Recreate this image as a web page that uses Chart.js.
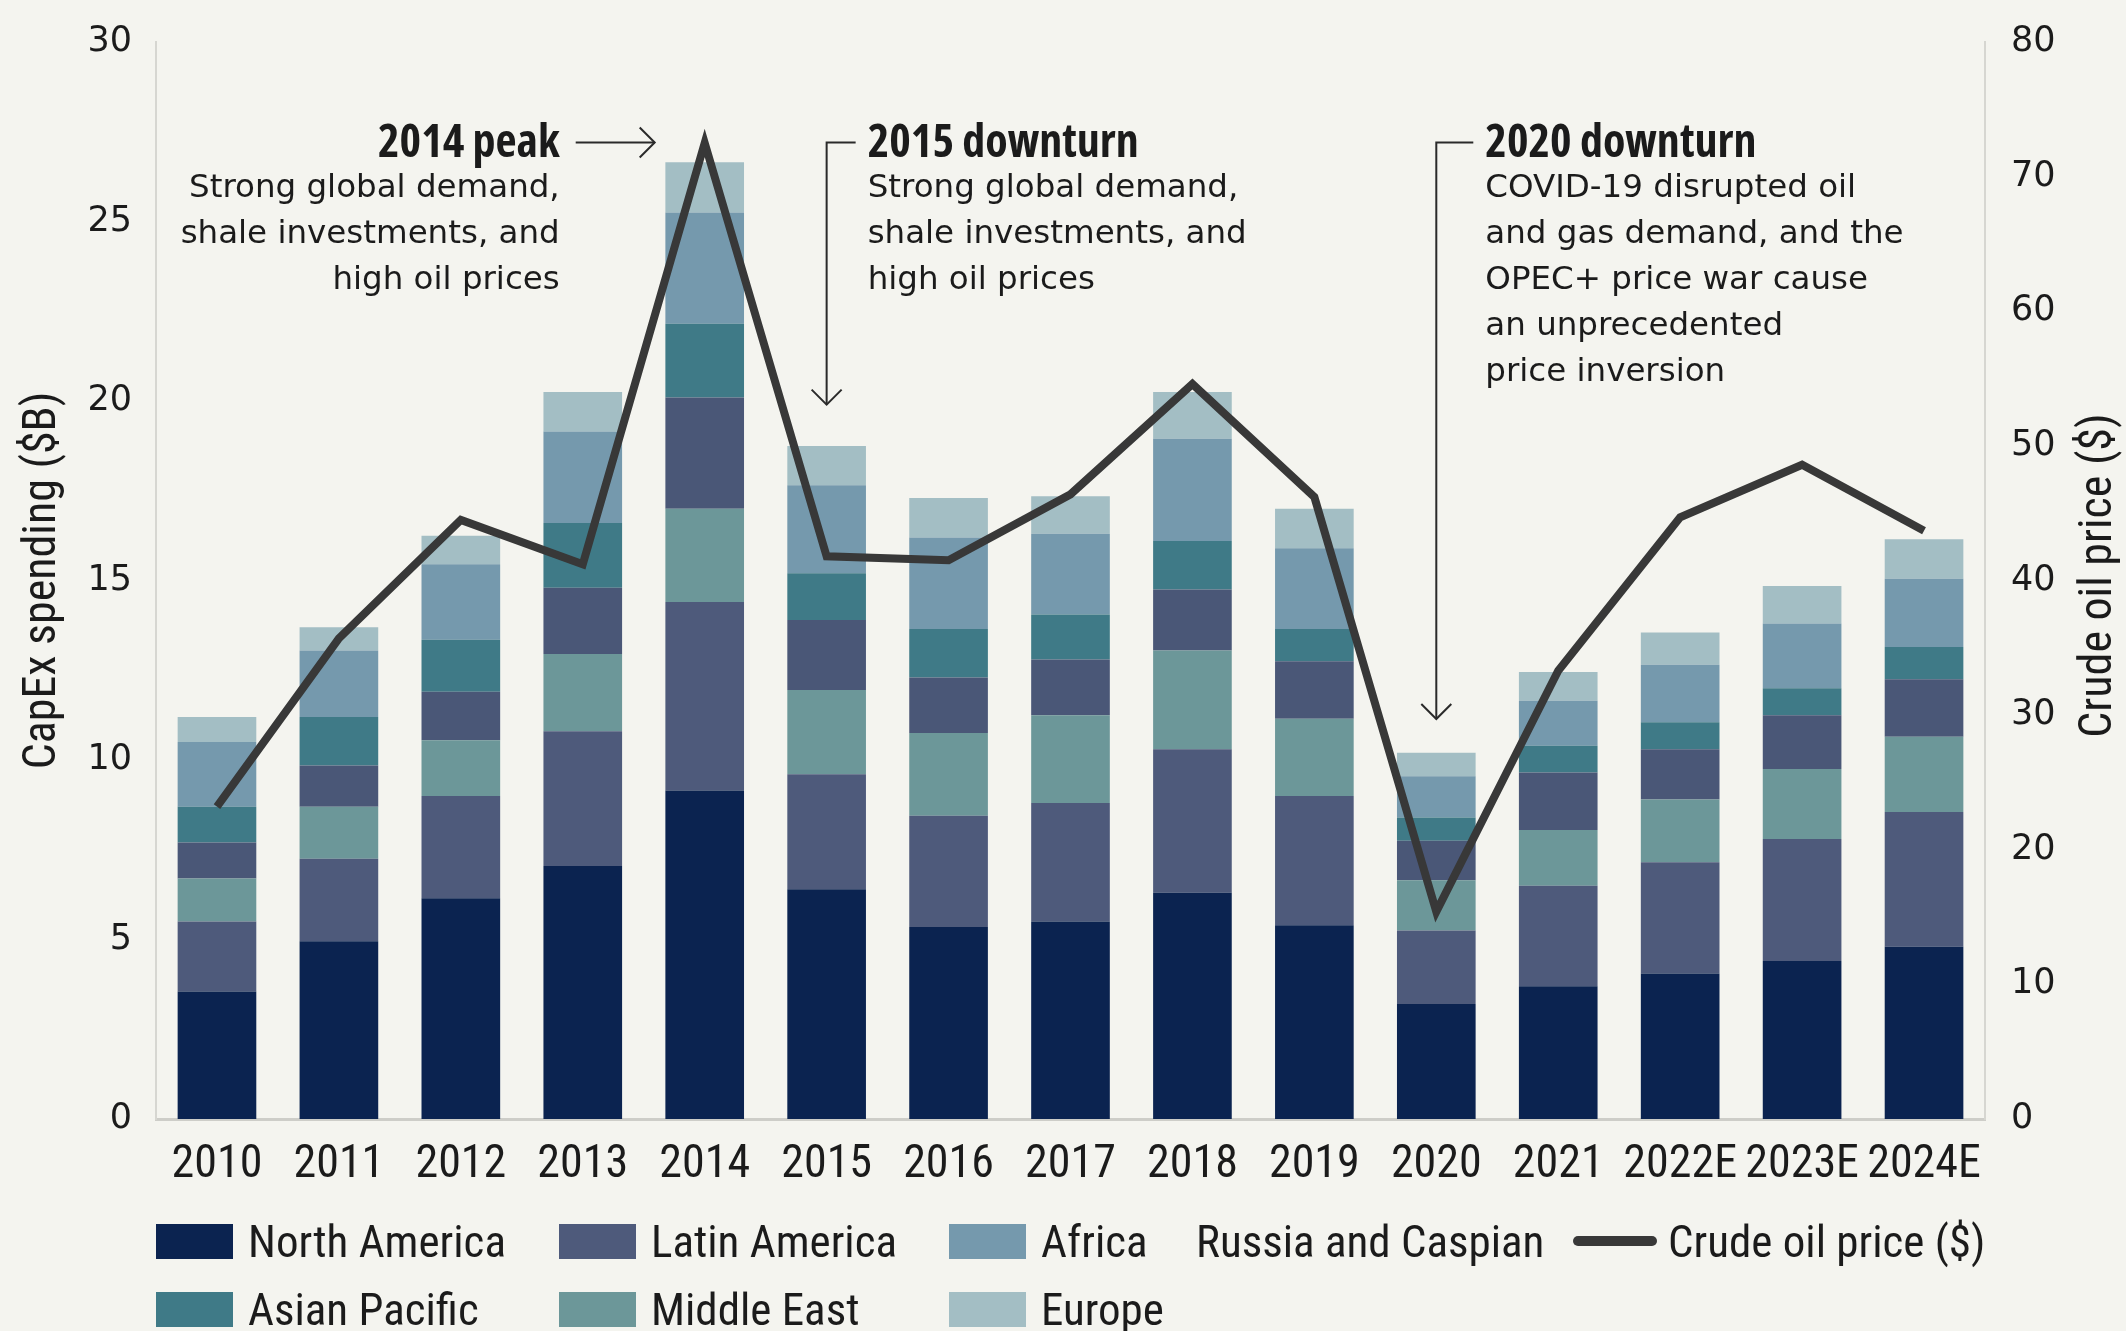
<!DOCTYPE html>
<html>
<head>
<meta charset="utf-8">
<script src="https://cdn.jsdelivr.net/npm/chart.js@4.4.1/dist/chart.umd.min.js"></script>
<style>
  html, body { margin: 0; padding: 0; background: #f4f4ef; }
  #wrap { position: relative; width: 2126px; height: 1331px; }
  #capex-chart { position: absolute; left: 0; top: 0; }
  .legend-item {
    position: absolute; height: 60px; display: flex; align-items: center;
    font-family: "Roboto Condensed", sans-serif;
    font-size: 45px; color: #1b1b1b; white-space: nowrap;
  }
  .swatch { width: 77px; height: 35px; margin-right: 15px; }
  .line-swatch { width: 84px; height: 10px; border-radius: 5px; margin-right: 11px; }
</style>
</head>
<body>
<div id="wrap">
  <canvas id="capex-chart" width="2126" height="1331"></canvas>
  <div id="legend"></div>
</div>
<script>
// categories
const years = ['2010', '2011', '2012', '2013', '2014', '2015', '2016', '2017', '2018', '2019', '2020', '2021', '2022E', '2023E', '2024E'];

// capex by region ($B), stacked bottom to top
const north_america = [3.55, 4.95, 6.15, 7.05, 9.15, 6.4, 5.35, 5.5, 6.3, 5.4, 3.2, 3.7, 4.05, 4.4, 4.8];
const latin_america = [1.95, 2.3, 2.85, 3.75, 5.25, 3.2, 3.1, 3.3, 4.0, 3.6, 2.05, 2.8, 3.1, 3.4, 3.75];
const middle_east = [1.2, 1.45, 1.55, 2.15, 2.6, 2.35, 2.3, 2.45, 2.75, 2.15, 1.4, 1.55, 1.75, 1.95, 2.1];
const russia_caspian = [1.0, 1.15, 1.35, 1.85, 3.1, 1.95, 1.55, 1.55, 1.7, 1.6, 1.1, 1.6, 1.4, 1.5, 1.6];
const asian_pacific = [1.0, 1.35, 1.45, 1.8, 2.05, 1.3, 1.35, 1.25, 1.35, 0.9, 0.65, 0.75, 0.75, 0.75, 0.9];
const africa = [1.8, 1.85, 2.1, 2.55, 3.1, 2.45, 2.55, 2.25, 2.85, 2.25, 1.15, 1.25, 1.6, 1.8, 1.9];
const europe = [0.7, 0.65, 0.8, 1.1, 1.4, 1.1, 1.1, 1.05, 1.3, 1.1, 0.65, 0.8, 0.9, 1.05, 1.1];

// crude oil price ($), right axis
const oil_price = [23.2, 35.7, 44.5, 41.2, 72.5, 41.8, 41.5, 46.4, 54.6, 46.2, 15.4, 33.3, 44.7, 48.6, 43.7];

// tick ranges
const capex_ticks = [0, 5, 10, 15, 20, 25, 30];
const price_ticks = [0, 10, 20, 30, 40, 50, 60, 70, 80];

const cond_family = '"Roboto Condensed", sans-serif';
const text_color = '#1b1b1b';

const regions = [
    { label: 'North America', data: north_america, color: '#0b2350' },
    { label: 'Latin America', data: latin_america, color: '#4e5a7b' },
    { label: 'Middle East', data: middle_east, color: '#6c9799' },
    { label: 'Russia and Caspian', data: russia_caspian, color: '#4a5777' },
    { label: 'Asian Pacific', data: asian_pacific, color: '#3f7a87' },
    { label: 'Africa', data: africa, color: '#7599ad' },
    { label: 'Europe', data: europe, color: '#a3bec4' }
];

let datasets = [{
    type: 'line',
    label: 'Crude oil price ($)',
    data: oil_price,
    yAxisID: 'y1',
    borderColor: '#383838',
    borderWidth: 8,
    borderJoinStyle: 'miter',
    pointRadius: 0,
    tension: 0,
    order: 0
}];
regions.forEach(r => {
    datasets.push({
        type: 'bar',
        label: r.label,
        data: r.data,
        yAxisID: 'y',
        backgroundColor: r.color,
        borderWidth: 0,
        barPercentage: 0.645,
        categoryPercentage: 1.0,
        order: 1
    });
});

// notes over the bars
const notes = [
    { year: '2014', align: 'right', dx: -145, title: '2014 peak',
      lines: ['Strong global demand,', 'shale investments, and', 'high oil prices'] },
    { year: '2015', align: 'left', dx: 41, title: '2015 downturn',
      lines: ['Strong global demand,', 'shale investments, and', 'high oil prices'], arrow_to: 19.9 },
    { year: '2020', align: 'left', dx: 49, title: '2020 downturn',
      lines: ['COVID-19 disrupted oil', 'and gas demand, and the', 'OPEC+ price war cause', 'an unprecedented', 'price inversion'], arrow_to: 11.14 }
];

function chevron(ctx, x, y, dir) {
    const s = 15;
    ctx.beginPath();
    if (dir === 'down') {
        ctx.moveTo(x - s, y - s); ctx.lineTo(x, y); ctx.lineTo(x + s, y - s);
    } else {
        ctx.moveTo(x - s, y - s); ctx.lineTo(x, y); ctx.lineTo(x - s, y + s);
    }
    ctx.stroke();
}

const notes_plugin = {
    id: 'notes',
    afterDraw(chart) {
        const { ctx, scales: { x, y } } = chart;
        const top_y = y.getPixelForValue(27.2);
        ctx.save();
        ctx.fillStyle = text_color;
        ctx.strokeStyle = '#2a2a2a';
        ctx.lineWidth = 2;
        ctx.textBaseline = 'middle';
        notes.forEach(n => {
            const cx = x.getPixelForValue(years.indexOf(n.year));
            const tx = cx + n.dx;
            ctx.textAlign = n.align;
            ctx.font = 'bold condensed 46px "Open Sans", sans-serif';
            ctx.fillText(n.title, tx, top_y + 1);
            ctx.font = '32.5px "DejaVu Sans", sans-serif';
            n.lines.forEach((line, i) => ctx.fillText(line, tx, top_y + 46 * (i + 1)));
            if (n.arrow_to === undefined) {
                // horizontal arrow pointing at the peak
                ctx.beginPath();
                ctx.moveTo(tx + 16, top_y);
                ctx.lineTo(cx - 50, top_y);
                ctx.stroke();
                chevron(ctx, cx - 50, top_y, 'right');
            } else {
                const end_y = y.getPixelForValue(n.arrow_to);
                ctx.beginPath();
                ctx.moveTo(tx - 12, top_y);
                ctx.lineTo(cx, top_y);
                ctx.lineTo(cx, end_y);
                ctx.stroke();
                chevron(ctx, cx, end_y, 'down');
            }
        });
        // right axis title, reading bottom to top
        const area = chart.chartArea;
        ctx.translate(chart.width - 27, (area.top + area.bottom) / 2 - 5);
        ctx.rotate(-Math.PI / 2);
        ctx.textAlign = 'center';
        ctx.font = '46px ' + cond_family;
        ctx.fillText('Crude oil price ($)', 0, 0);
        ctx.restore();
    }
};

// keep tick label overflow from pushing the plot area down
function fixed_side(width) {
    return function (scale) {
        scale.width = width;
        scale.paddingTop = 0;
        scale.paddingBottom = 0;
    };
}

let capex_chart = new Chart(document.getElementById('capex-chart').getContext('2d'), {
    data: { labels: years, datasets: datasets },
    options: {
        responsive: false,
        animation: false,
        layout: { padding: { top: 42, right: 0, bottom: 0, left: 0 } },
        plugins: { legend: { display: false }, tooltip: { enabled: false } },
        scales: {
            x: {
                stacked: true,
                offset: true,
                grid: { display: false, drawTicks: false },
                border: { color: '#cdcdc8', width: 3 },
                ticks: { font: { family: cond_family, size: 46 }, color: text_color, padding: 19, maxRotation: 0, autoSkip: false },
                afterFit(scale) { scale.height = 212; scale.paddingLeft = 0; scale.paddingRight = 0; }
            },
            y: {
                stacked: true,
                position: 'left',
                min: capex_ticks[0],
                max: capex_ticks[capex_ticks.length - 1],
                afterBuildTicks(scale) { scale.ticks = capex_ticks.map(v => ({ value: v })); },
                grid: { display: false, drawTicks: false },
                border: { color: '#d6d6d1', width: 2 },
                ticks: { font: { family: 'DejaVu Sans', size: 35 }, color: text_color, padding: 24 },
                title: { display: true, text: 'CapEx spending ($B)', font: { family: cond_family, size: 46 }, color: text_color, padding: { top: 16, bottom: 0 } },
                afterFit: fixed_side(156)
            },
            y1: {
                position: 'right',
                min: price_ticks[0],
                max: price_ticks[price_ticks.length - 1],
                afterBuildTicks(scale) { scale.ticks = price_ticks.map(v => ({ value: v })); },
                grid: { display: false, drawTicks: false },
                border: { color: '#d6d6d1', width: 2 },
                ticks: { font: { family: 'DejaVu Sans', size: 35 }, color: text_color, padding: 26 },
                afterFit: fixed_side(141)
            }
        }
    },
    plugins: [notes_plugin]
});

// legend, laid out like the original two rows
const legend_items = [
    { label: 'North America', color: '#0b2350', left: 156, row: 0 },
    { label: 'Latin America', color: '#4e5a7b', left: 559, row: 0 },
    { label: 'Africa', color: '#7599ad', left: 949, row: 0 },
    { label: 'Russia and Caspian', color: null, left: 1196, row: 0 },
    { label: 'Crude oil price ($)', color: '#383838', left: 1573, row: 0, line: true },
    { label: 'Asian Pacific', color: '#3f7a87', left: 156, row: 1 },
    { label: 'Middle East', color: '#6c9799', left: 559, row: 1 },
    { label: 'Europe', color: '#a3bec4', left: 949, row: 1 }
];
const legend_area = document.getElementById('legend');
legend_items.forEach(item => {
    let div = document.createElement('div');
    div.className = 'legend-item';
    div.style.left = item.left + 'px';
    div.style.top = (item.row === 0 ? 1211 : 1279) + 'px';
    if (item.color) {
        let sw = document.createElement('span');
        sw.className = item.line ? 'line-swatch' : 'swatch';
        sw.style.background = item.color;
        div.appendChild(sw);
    }
    let txt = document.createElement('span');
    txt.textContent = item.label;
    div.appendChild(txt);
    legend_area.appendChild(div);
});
</script>
</body>
</html>
